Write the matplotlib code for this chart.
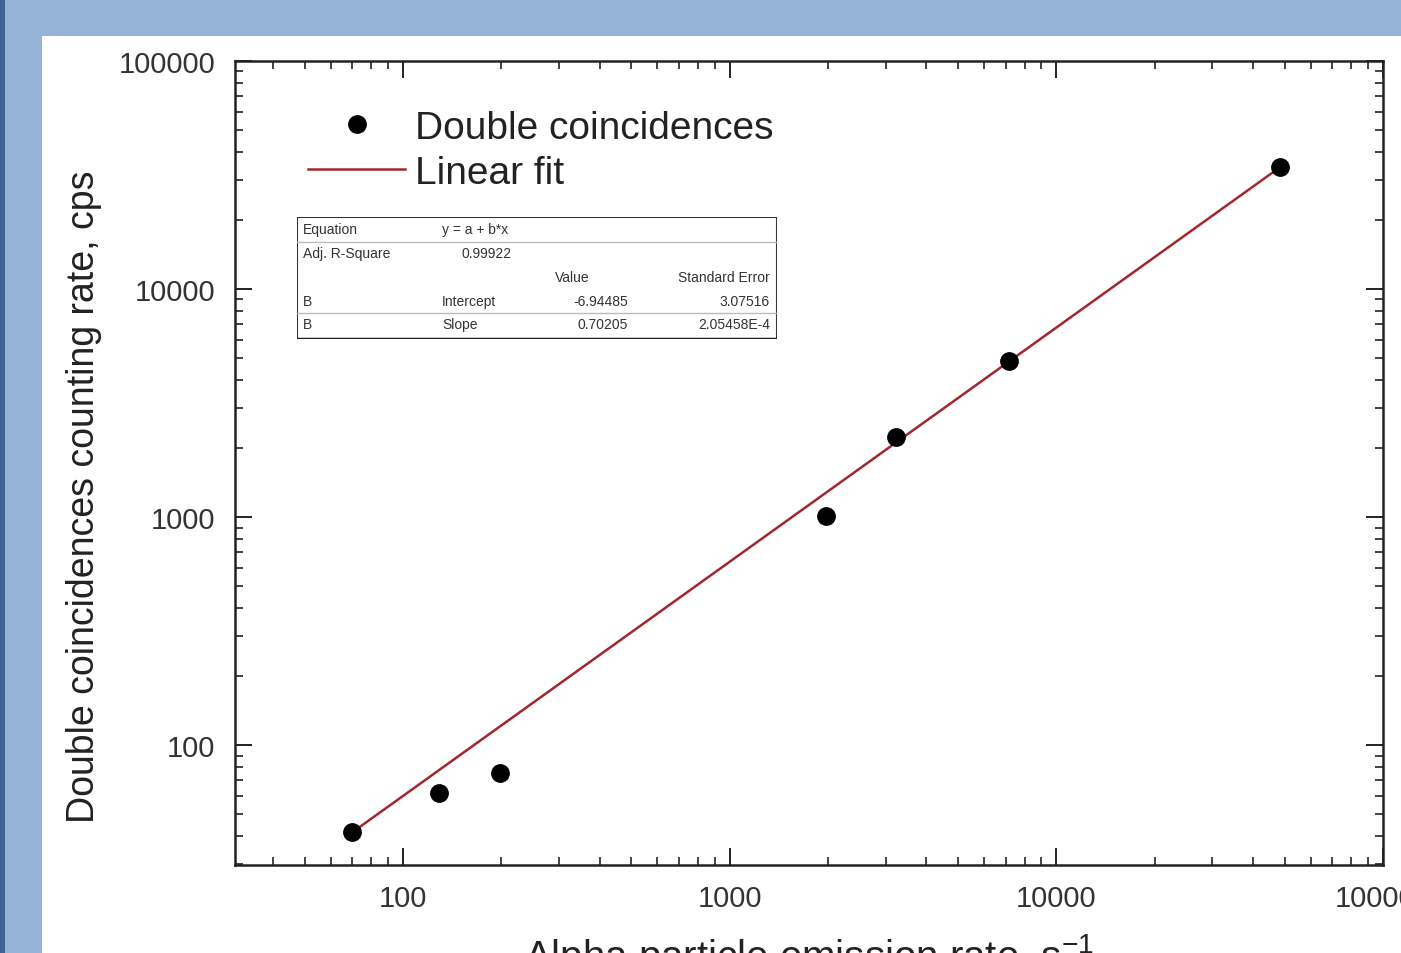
import numpy as np
import matplotlib
matplotlib.use("Agg")
import matplotlib.pyplot as plt
from matplotlib.patches import Rectangle

plt.rcParams['font.family'] = ['Liberation Sans', 'DejaVu Sans']
plt.rcParams['mathtext.default'] = 'regular'

# ---- data ----
alpha_rate = [70, 129, 198, 1966, 3221, 7180, 48400]
double_rate = [41.5, 61.6, 75.4, 1010, 2244, 4831, 34300]
# drawn fit line (straight in log-log)
fit_log_intercept = -0.277
fit_log_slope = 1.027

xticks = [100, 1000, 10000, 100000]
xtick_labels = ["100", "1000", "10000", "100000"]
yticks = [100, 1000, 10000, 100000]
ytick_labels = ["100", "1000", "10000", "100000"]

table_rows = [
    ["Equation", "y = a + b*x", "", ""],
    ["Adj. R-Square", "0.99922", "", ""],
    ["", "", "Value", "Standard Error"],
    ["B", "Intercept", "-6.94485", "3.07516"],
    ["B", "Slope", "0.70205", "2.05458E-4"],
]

W, H = 1401, 954
fig = plt.figure(figsize=(W / 100, H / 100), dpi=100)
fig.patch.set_facecolor("#95B3D7")

def fx(px):
    return px / W

def fy(py):
    return 1 - py / H

# white panel and dark left strip
fig.patches.append(Rectangle((fx(42), 0), 1 - fx(42), fy(37), transform=fig.transFigure,
                             facecolor="white", edgecolor="none", zorder=-10))
fig.patches.append(Rectangle((0, 0), fx(5), 1, transform=fig.transFigure,
                             facecolor="#3E6296", edgecolor="none", zorder=-10))

ax = fig.add_axes([fx(235), fy(866), fx(1383) - fx(235), fy(62) - fy(866)])
ax.set_xscale("log")
ax.set_yscale("log")
ax.set_xlim(30.6, 100000)
ax.set_ylim(29.8, 100000)

ax.plot(alpha_rate, double_rate, "o", color="black", markersize=12.5, zorder=3,
        label="Double coincidences")
fx_line = np.logspace(np.log10(min(alpha_rate)), np.log10(max(alpha_rate)), 100)
fy_line = 10 ** (fit_log_intercept + fit_log_slope * np.log10(fx_line))
ax.plot(fx_line, fy_line, "-", color="#A3262A", linewidth=1.8, zorder=2, label="Linear fit")

ax.set_xticks(xticks)
ax.set_xticklabels(xtick_labels)
ax.set_yticks(yticks)
ax.set_yticklabels(ytick_labels)
ax.xaxis.set_minor_locator(matplotlib.ticker.LogLocator(base=10, subs=np.arange(2, 10)))
ax.yaxis.set_minor_locator(matplotlib.ticker.LogLocator(base=10, subs=np.arange(2, 10)))
ax.xaxis.set_minor_formatter(matplotlib.ticker.NullFormatter())
ax.yaxis.set_minor_formatter(matplotlib.ticker.NullFormatter())
ax.tick_params(which="both", direction="in", top=True, right=True, color="#222222")
ax.tick_params(which="major", length=12, width=1.4, labelsize=21, labelcolor="#333333", pad=14)
ax.tick_params(which="minor", length=6, width=1.2)
for s in ax.spines.values():
    s.set_linewidth(1.8)
    s.set_color("#222222")

fig.text(fx(84), fy(497), "Double coincidences counting rate, cps", rotation=90,
         ha="center", va="center", fontsize=27, color="#222222")
fig.text(fx(809), fy(932), "Alpha particle emission rate, s$^{-1}$",
         ha="center", va="top", fontsize=29, color="#222222")

leg = ax.legend(loc="upper left", bbox_to_anchor=(fx(308), fy(111)), bbox_transform=fig.transFigure,
                frameon=False, fontsize=28, handlelength=2.5, handletextpad=0.25,
                labelspacing=0.22, borderaxespad=0, borderpad=0)
for t in leg.get_texts():
    t.set_color("#222222")

# inset table
tx0, tx1, ty0, ty1 = 297, 777, 218, 340
tab = fig.add_axes([fx(tx0), fy(ty1), fx(tx1) - fx(tx0), fy(ty0) - fy(ty1)])
tab.set_xlim(tx0, tx1)
tab.set_ylim(ty1, ty0)
tab.axis("off")
tab.add_patch(Rectangle((tx0, ty0), tx1 - tx0, ty1 - ty0, facecolor="white",
                        edgecolor="#333333", linewidth=1.5))
tab.plot([tx0, tx1], [ty1, ty1], color="#222222", linewidth=2.5)
for yl in [243, 314]:
    tab.plot([tx0, tx1], [yl, yl], color="#BBBBBB", linewidth=1.0)
row_y = [230, 254, 278, 302, 325]
col_x = [303, 442, 628, 770]
col_ha = ["left", "left", "right", "right"]
for r, yv in zip(table_rows, row_y):
    for ci, txt in enumerate(r):
        if not txt:
            continue
        xv = col_x[ci]
        ha = col_ha[ci]
        if r[0] == "Adj. R-Square" and ci == 1:
            xv, ha = 462, "left"
        if r[2] == "Value" and ci == 2:
            xv, ha = 590, "right"
        tab.text(xv, yv, txt, ha=ha, va="center", fontsize=10, color="#333333")

fig.savefig("out.png", dpi=100, facecolor=fig.get_facecolor())
